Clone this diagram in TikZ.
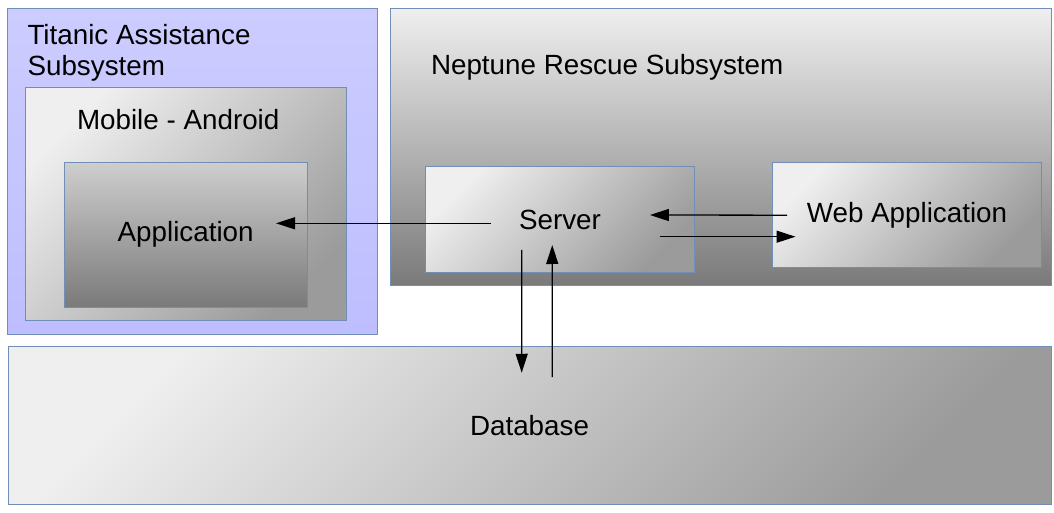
\documentclass[tikz,border=0pt]{standalone}
\usepackage{fontspec}
\setmainfont{Liberation Sans}
\usetikzlibrary{arrows.meta, calc}

\definecolor{edgeblue}{RGB}{112,142,182}
\definecolor{lavender}{RGB}{204,204,255}
\definecolor{lavenderdeep}{RGB}{190,190,255}
\definecolor{paleg}{RGB}{239,239,239}
\definecolor{darkg}{RGB}{155,155,155}
\definecolor{midg}{RGB}{206,206,206}
\definecolor{deepg}{RGB}{122,122,122}

\begin{document}
\begin{tikzpicture}[x=0.5pt, y=-0.5pt,
        every node/.style={font=\fontsize{13.9}{15.5}\selectfont, inner sep=0pt, outer sep=0pt},
        box/.style={draw=edgeblue, line width=0.5pt, rectangle},
        diag/.style={box, top color=paleg, bottom color=darkg, shading angle=45},
        vert/.style={box, top color=#1, bottom color=deepg},
        flow/.style={-{Triangle[length=9.5pt, width=6pt]}, line width=0.65pt}]
        \useasboundingbox (0,0) rectangle (1054,513);

        % Define the containers
        \node[box, top color=lavender, bottom color=lavenderdeep, minimum width=184.75pt, minimum height=162.75pt] (tas) at (192.25,171.25) {};
        \node[vert=paleg, minimum width=330.75pt, minimum height=138.5pt] (nrs) at (720.75,147) {};
        \node[diag, minimum width=160.85pt, minimum height=116.5pt] (mob) at (185.85,204.2) {};

        % Draw the inner boxes
        \node[vert=midg, minimum width=121.35pt, minimum height=72.5pt] (app) at (185.65,234.8) {Application};
        \node[diag, minimum width=134.5pt, minimum height=52.8pt] (srv) at (559.95,219.5) {Server};
        \node[diag, minimum width=134.5pt, minimum height=52.5pt] (web) at (907,215.2) {Web Application};
        \node[diag, minimum width=521.5pt, minimum height=78.65pt] (db) at (529.5,425.35) {Database};

        % Container labels
        \node[anchor=north west, align=left] (taslabel) at (27.5,24.1) {Titanic Assistance\\Subsystem};
        \node[anchor=base west] (nrslabel) at (431,74.3) {Neptune Rescue Subsystem};
        \node[anchor=base west] (moblabel) at (77,129.3) {Mobile - Android};

        % Draw the messages
        \draw[flow] ($(srv.center)+(-69,3.8)$) -- ($(app.center)+(90.35,-11.5)$);
        \draw[flow] ($(web.center)+(-120,0)$) -- ($(srv.center)+(90,-4.5)$);
        \draw[flow] ($(srv.center)+(100,17.2)$) -- ($(web.center)+(-111.5,21.5)$);
        \draw[flow] ($(srv.center)+(-38.3,30.5)$) -- ($(db.center)+(-7.8,-52.6)$);
        \draw[flow] ($(db.center)+(22.8,-48.35)$) -- ($(srv.center)+(-7.7,25.5)$);
    \end{tikzpicture}
\end{document}
